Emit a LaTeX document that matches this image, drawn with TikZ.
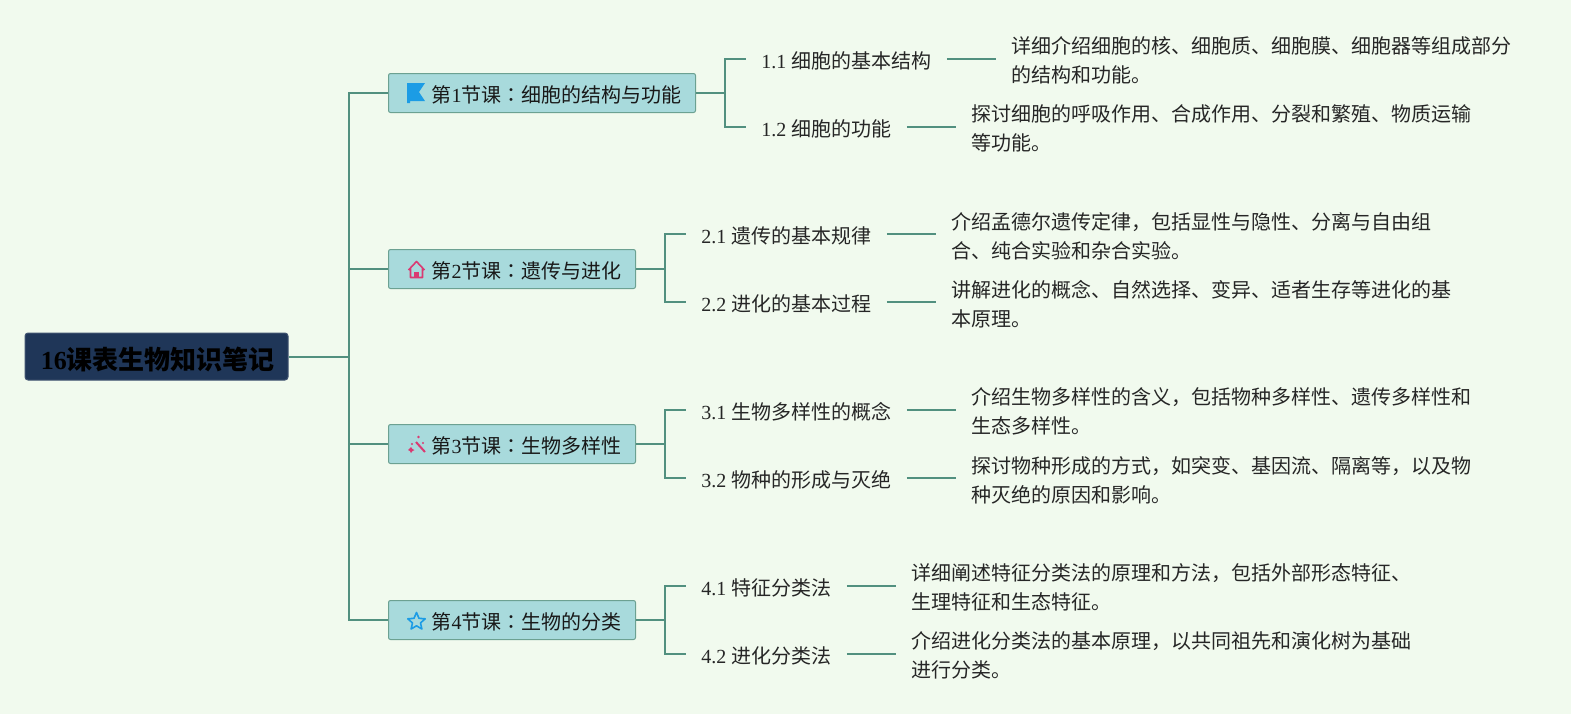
\documentclass[tikz,border=0pt]{standalone}
\usepackage{fontspec}
\setmainfont{Noto Sans CJK SC}
\newfontfamily\lat{Liberation Serif}
\newfontfamily\colonfont{Noto Sans CJK TC}
\newcommand{\cln}{{\colonfont ：}}
\definecolor{bgc}{HTML}{F1FAEE}
\definecolor{linec}{HTML}{52907F}
\definecolor{boxc}{HTML}{A8DADC}
\definecolor{rootc}{HTML}{1F3658}
\definecolor{bluei}{HTML}{1C9CE5}
\definecolor{pinki}{HTML}{DA3A72}
\tikzset{
  conn/.style={draw=linec,line width=1pt},
  rootbox/.style={draw=rootc!85!white,line width=.5pt,fill=rootc,rounded corners=1.5pt,inner sep=0pt,minimum width=131.5pt,minimum height=23.5pt,text height=16pt,text depth=3pt,font=\fontsize{13pt}{16pt}\selectfont\bfseries,text=black},
  secbox/.style={draw=linec!85!white,line width=.5pt,fill=boxc,rounded corners=1pt,inner ysep=0pt,inner xsep=0pt,text width=#1,minimum height=19.5pt,text height=12pt,text depth=2.4pt,anchor=west,font=\fontsize{10pt}{14.5pt}\selectfont,text=black!90},
  lab/.style={inner ysep=2pt,inner xsep=7.5pt,anchor=west,text height=12pt,text depth=2.4pt,font=\fontsize{10pt}{14.5pt}\selectfont,text=black!85},
  det/.style={inner ysep=2pt,inner xsep=7.5pt,anchor=west,font=\fontsize{10pt}{14.5pt}\selectfont,text=black!85,align=left},
  iconb/.style={fill=bluei,draw=none},
}
\newcommand{\ind}{\hspace*{21.5pt}}
\begin{document}
\begin{tikzpicture}[x=0.5pt,y=-0.5pt]
\useasboundingbox[fill=bgc] (0,0) rectangle (1571,714);
% root
\node[rootbox] (root) at (156.5,356.5) {\hspace{1.5pt}{\lat\bfseries 16}课表生物知识笔记};
% sections
\node[secbox=153.5pt] (s1) at (388,93) {\ind 第{\lat 1}节课\cln 细胞的结构与功能};
\node[secbox=123.5pt] (s2) at (388,269) {\ind 第{\lat 2}节课\cln 遗传与进化};
\node[secbox=123.5pt] (s3) at (388,444) {\ind 第{\lat 3}节课\cln 生物多样性};
\node[secbox=123.5pt] (s4) at (388,620) {\ind 第{\lat 4}节课\cln 生物的分类};
% trunk
\coordinate (tr) at (349,356.5);
\draw[conn] (root.east) -- (tr);
\foreach \s in {s1,s2,s3,s4} \draw[conn] (tr) |- (\s.west);
% labels
\node[lab] (l11) at (746,59) {{\lat 1.1 }细胞的基本结构};
\node[lab] (l12) at (746,127) {{\lat 1.2 }细胞的功能};
\node[lab] (l21) at (686,234) {{\lat 2.1 }遗传的基本规律};
\node[lab] (l22) at (686,302) {{\lat 2.2 }进化的基本过程};
\node[lab] (l31) at (686,410) {{\lat 3.1 }生物多样性的概念};
\node[lab] (l32) at (686,478) {{\lat 3.2 }物种的形成与灭绝};
\node[lab] (l41) at (686,586) {{\lat 4.1 }特征分类法};
\node[lab] (l42) at (686,654) {{\lat 4.2 }进化分类法};
% details
\node[det] (d11) at (996,60.5) {详细介绍细胞的核、细胞质、细胞膜、细胞器等组成部分\\的结构和功能。};
\node[det] (d12) at (956,128.5) {探讨细胞的呼吸作用、合成作用、分裂和繁殖、物质运输\\等功能。};
\node[det] (d21) at (936,236.5) {介绍孟德尔遗传定律，包括显性与隐性、分离与自由组\\合、纯合实验和杂合实验。};
\node[det] (d22) at (936,304.5) {讲解进化的概念、自然选择、变异、适者生存等进化的基\\本原理。};
\node[det] (d31) at (956,411.5) {介绍生物多样性的含义，包括物种多样性、遗传多样性和\\生态多样性。};
\node[det] (d32) at (956,480.5) {探讨物种形成的方式，如突变、基因流、隔离等，以及物\\种灭绝的原因和影响。};
\node[det] (d41) at (896,587.5) {详细阐述特征分类法的原理和方法，包括外部形态特征、\\生理特征和生态特征。};
\node[det] (d42) at (896,655.5) {介绍进化分类法的基本原理，以共同祖先和演化树为基础\\进行分类。};
% brackets
\coordinate (b1) at (725,93);
\coordinate (b2) at (665,269);
\coordinate (b3) at (665,444);
\coordinate (b4) at (665,620);
\foreach \i in {1,2,3,4}{
  \draw[conn] (s\i.east) -- (b\i);
  \draw[conn] (b\i) |- (l\i1.west);
  \draw[conn] (b\i) |- (l\i2.west);
  \draw[conn] (l\i1.east) -- (l\i1.east -| d\i1.west);
  \draw[conn] (l\i2.east) -- (l\i2.east -| d\i2.west);
}
% icons
\fill[iconb] (407,83) -- (425,83) -- (419,92) -- (425,101) -- (410,101) -- (410,103) -- (407,103) -- cycle;
\draw[pinki,line width=.8pt,line join=round] (408.5,270) -- (416.5,261.5) -- (424.5,270) (410.5,268) -- (410.5,277.5) -- (422.5,277.5) -- (422.5,268);
\fill[pinki] (414,272) rectangle (419,277.5);
\draw[pinki,line width=1pt] (416,442) -- (425,452);
\fill[pinki] (409,449) -- (411,447) -- (412.5,449) -- (414.5,450) -- (412.5,451) -- (411,453) -- (410,451) -- (408,450) -- cycle;
\fill[pinki] (418.5,437) circle (1.3);
\fill[pinki] (412,444) circle (1.1);
\fill[pinki] (423,443) circle (1.1);
\draw[bluei,line width=.8pt,line join=round] (416.5,612.5)
 -- (419,618.3) -- (425.2,618.8) -- (420.5,622.9) -- (421.9,629) -- (416.5,625.8)
 -- (411.1,629) -- (412.5,622.9) -- (407.8,618.8) -- (414,618.3) -- cycle;
\end{tikzpicture}
\end{document}
